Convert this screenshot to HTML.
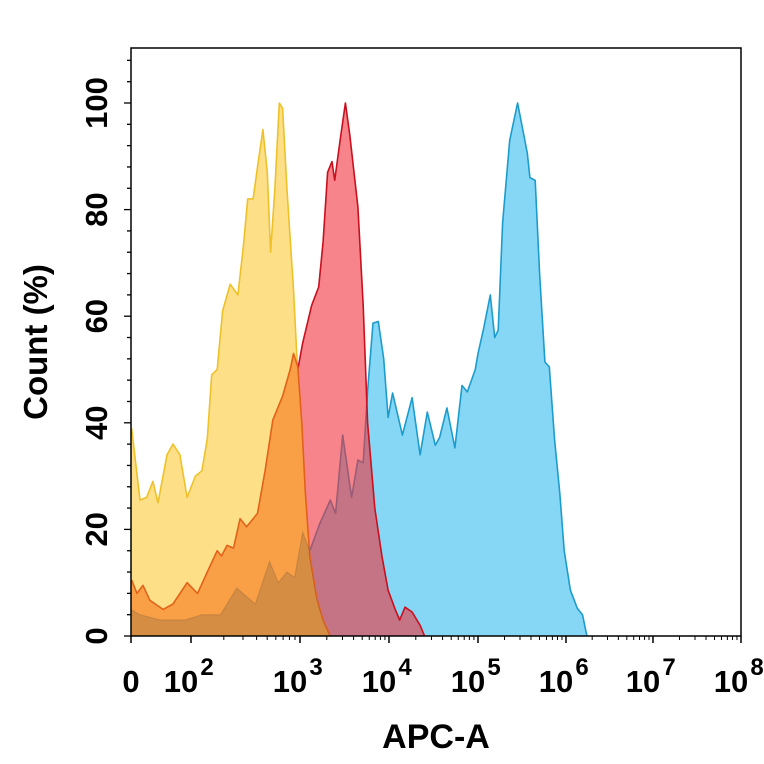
<!DOCTYPE html>
<html><head><meta charset="utf-8">
<style>
html,body{margin:0;padding:0;background:#fff;}
svg{display:block;font-family:"Liberation Sans",Arial,sans-serif;}
</style></head>
<body>
<svg id="chart" width="764" height="764" viewBox="0 0 764 764">
<defs><clipPath id="orangeClip"><path id="orangeClipPath"/></clipPath></defs>
<g id="plot"></g>
<g id="axes"></g>
<text x="436" y="748" text-anchor="middle" font-size="34" font-weight="bold">APC-A</text>
<text transform="translate(47,342) rotate(-90)" text-anchor="middle" font-size="33" font-weight="bold">Count  (%)</text>
</svg>
<script>
// x positions in "decade units": 0 = "0", 2 = 10^2, ... 8 = 10^8
const xTickDecades = [0, 2, 3, 4, 5, 6, 7, 8];
const xTickLabels = ["0", "10", "10", "10", "10", "10", "10", "10"];
const xTickExps = ["", "2", "3", "4", "5", "6", "7", "8"];
const yTicks = [0, 20, 40, 60, 80, 100];

const yellowD = [0.02,0.30,0.52,0.73,0.90,1.20,1.40,1.63,1.87,2.04,2.10,2.15,2.19,2.24,2.29,2.36,2.43,2.48,2.52,2.57,2.61,2.66,2.70,2.73,2.77,2.81,2.84,2.88,2.94,2.98,3.03,3.09,3.17,3.26,3.31];
const yellowV = [39,25.5,26,29,25,34,36,34,26,30,31,37,49,50,61,66,64,73,82,82,88,95,87,72,84,100,99,84,65,49,24,13,7,3,0];

const orangeD = [0.02,0.2,0.4,0.63,1.07,1.4,1.87,2.06,2.15,2.24,2.28,2.33,2.39,2.45,2.51,2.61,2.68,2.75,2.84,2.91,2.94,2.98,3.02,3.06,3.11,3.19,3.26,3.34];
const orangeV = [10.5,8,9.5,6.7,5,6,10,8,12,16,15,17,16.5,22,20.5,23,31,40.5,45,50,53,50.5,40,27,15,7,3,0];

const redD = [2.3,2.63,2.82,2.91,2.98,3.03,3.13,3.21,3.26,3.31,3.36,3.39,3.45,3.51,3.56,3.6,3.65,3.71,3.76,3.84,3.92,3.99,4.07,4.12,4.18,4.26,4.35,4.4];
const redV = [0,20,35,45,50,55,62,65.5,74,87,89,85.5,93,100,94,88,80.5,62,40,24,15,8.6,5,3,5.4,4.5,2,0];

const blueD = [0,0.3,0.97,1.8,2.1,2.27,2.42,2.59,2.72,2.8,2.88,2.95,3.03,3.11,3.22,3.34,3.4,3.48,3.58,3.65,3.71,3.76,3.82,3.88,3.94,3.99,4.04,4.15,4.26,4.35,4.43,4.52,4.57,4.65,4.74,4.82,4.88,4.97,5,5.06,5.14,5.19,5.23,5.28,5.36,5.45,5.56,5.59,5.65,5.7,5.76,5.81,5.87,5.93,5.98,6.05,6.13,6.19,6.24];
const blueV = [5,4,3,3,4,4,9,6,14,10,12,11,19.5,16,21,25.5,23,37.7,26,33,32.5,46,58.7,59,52,41,45.6,37.7,44.7,34,42,35.8,37.3,42.8,35.3,47,45.8,50,53,57.4,64,56,57.4,77.5,93,100,90.6,86,85.5,68,51.4,50.5,36.8,26.8,16,8.6,5.2,4,0];

const NS = "http://www.w3.org/2000/svg";
const L = 131, R = 741, T = 48, B = 636;
const tickPx = [131, 191, 300, 389, 478, 566, 653, 741];
function xScale(d){
  for (let i = 0; i < xTickDecades.length - 1; i++) {
    const a = xTickDecades[i], b = xTickDecades[i+1];
    if (d <= b || i === xTickDecades.length - 2) {
      return tickPx[i] + (d - a) / (b - a) * (tickPx[i+1] - tickPx[i]);
    }
  }
}
function yScale(v){ return B - v * 5.33; }

function mk(tag, attrs, parent){
  const e = document.createElementNS(NS, tag);
  for (const k in attrs) e.setAttribute(k, attrs[k]);
  parent.appendChild(e);
  return e;
}
function areaPath(ds, vs){
  let p = "M" + xScale(ds[0]).toFixed(1) + "," + B;
  for (let i = 0; i < ds.length; i++) p += " L" + xScale(ds[i]).toFixed(1) + "," + yScale(vs[i]).toFixed(1);
  p += " L" + xScale(ds[ds.length-1]).toFixed(1) + "," + B + " Z";
  return p;
}
function linePath(ds, vs){
  let p = "";
  for (let i = 0; i < ds.length; i++) p += (i ? " L" : "M") + xScale(ds[i]).toFixed(1) + "," + yScale(vs[i]).toFixed(1);
  return p;
}
const plot = document.getElementById("plot");
const axes = document.getElementById("axes");

function series(name, ds, vs, fill, stroke, op){
  const g = mk("g", {}, plot);
  
  
  const a = mk("path", {d: areaPath(ds, vs), fill: fill, "fill-opacity": op, stroke: "none"}, g);
  
  
  const l = mk("path", {d: linePath(ds, vs), fill: "none", stroke: stroke, "stroke-width": 1.6, "stroke-linejoin": "round"}, g);
  
  
}
series("blue-series", blueD, blueV, "#86d7f5", "#1c9ccc", 1);
series("yellow-series", yellowD, yellowV, "#fddf88", "#eec12a", 1);
series("red-series", redD, redV, "#f0323c", "#c8101e", 0.6);
series("orange-series", orangeD, orangeV, "#f9a047", "#e2621a", 1);
// blue tail showing through yellow/orange, clipped to the orange area
document.getElementById("orangeClipPath").setAttribute("d", areaPath(orangeD, orangeV));
const tailD = blueD.filter(d => d <= 3.4);
const tailV = blueV.slice(0, tailD.length);
const tail = mk("path", {d: areaPath(tailD, tailV), fill: "#7a5a3a", "fill-opacity": 0.28, stroke: "#7a5a3a", "stroke-opacity": 0.3, "clip-path": "url(#orangeClip)"}, plot);



// frame
const fr = mk("rect", {x: L, y: T, width: R - L, height: B - T, fill: "none", stroke: "#000", "stroke-width": 1.5}, axes);



// y ticks
for (let v = 0; v <= 108; v += 4) {
  const major = yTicks.includes(v);
  const t = mk("line", {x1: L, x2: L - (major ? 7 : 4), y1: yScale(v), y2: yScale(v), stroke: "#000", "stroke-width": 1.3}, axes);
  
  
}
yTicks.forEach(v => {
  const tx = mk("text", {transform: "translate(107," + yScale(v) + ") rotate(-90)", "text-anchor": "middle", "font-size": 31, "font-weight": "bold"}, axes);
  tx.textContent = String(v);
  
  
});

// x ticks
xTickDecades.forEach((d, i) => {
  const t = mk("line", {x1: xScale(d), x2: xScale(d), y1: B, y2: B + 7, stroke: "#000", "stroke-width": 1.5}, axes);
  
  
  if (i > 0 && i < xTickDecades.length - 1) {
    for (let m = 2; m <= 9; m++) {
      const dd = d + Math.log10(m);
      const mt = mk("line", {x1: xScale(dd), x2: xScale(dd), y1: B, y2: B + 4, stroke: "#000", "stroke-width": 1}, axes);
      
      
    }
  }
});
xTickDecades.forEach((d, i) => {
  const x = xScale(d);
  const tx = mk("text", {x: i === 0 ? x : x - 10, y: 692, "text-anchor": "middle", "font-size": 31, "font-weight": "bold"}, axes);
  tx.textContent = xTickLabels[i];
  
  
  if (xTickExps[i]) {
    const ex = mk("text", {x: x + 16, y: 675, "text-anchor": "middle", "font-size": 24, "font-weight": "bold"}, axes);
    ex.textContent = xTickExps[i];
    
    
  }
});
</script>
</body></html>
